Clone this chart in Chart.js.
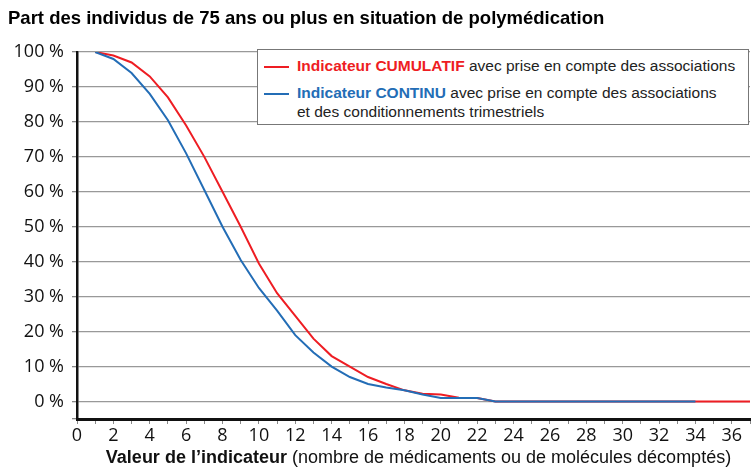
<!DOCTYPE html>
<html>
<head>
<meta charset="utf-8">
<script src="https://cdn.jsdelivr.net/npm/chart.js@4"></script>
<style>
  body { margin: 0; background: #fff; }
  #wrap { position: relative; width: 751px; height: 467px; overflow: hidden; }
  #titre { position: absolute; left: 8px; top: 7px; font: bold 18.5px "Liberation Sans", sans-serif; color: #000; white-space: nowrap; }
  #legende { position: absolute; left: 257px; top: 49px; width: 492px; height: 76px; box-sizing: border-box;
             border: 1.5px solid #777; background: #fff; font: 15.5px "Liberation Sans", sans-serif; color: #222; }
  .ligne { position: absolute; left: 6px; white-space: nowrap; }
  .trait { display: inline-block; width: 25px; height: 0; border-top: 2px solid; vertical-align: middle; margin-right: 8px; }
  #axeX { position: absolute; left: 0; width: 751px; top: 447px; text-align: center; font: 18px "Liberation Sans", sans-serif; color: #111; white-space: nowrap; padding-left: 86px; box-sizing: border-box; }
</style>
</head>
<body>
<div id="wrap">
  <canvas id="graph"></canvas>
  <div id="titre">Part des individus de 75 ans ou plus en situation de polymédication</div>
  <div id="legende">
    <div class="ligne" style="top:7px"><span class="trait" style="border-color:#ee1d23"></span><b style="color:#ee1d23">Indicateur CUMULATIF</b> avec prise en compte des associations</div>
    <div class="ligne" style="top:34px"><span class="trait" style="border-color:#236db6"></span><b style="color:#236db6">Indicateur CONTINU</b> avec prise en compte des associations</div>
    <div class="ligne" style="top:53px; left:39px">et des conditionnements trimestriels</div>
  </div>
  <div id="axeX"><b>Valeur de l’indicateur</b> (nombre de médicaments ou de molécules décomptés)</div>
</div>
<script>
const valeurs = [1, 2, 3, 4, 5, 6, 7, 8, 9, 10, 11, 12, 13, 14, 15, 16, 17, 18, 19, 20, 21, 22, 23, 24, 25, 26, 27, 28, 29, 30, 31, 32, 33, 34, 35, 36, 37];
const cumulatif = [100, 99, 97, 93, 87, 79, 70, 60, 50, 39.5, 31, 24.5, 18, 13, 10, 7, 5, 3.2, 2.2, 2, 1.1, 1, 0, 0, 0, 0, 0, 0, 0, 0, 0, 0, 0, 0, 0, 0, 0];
const continu = [100, 98, 94, 88, 80.5, 71, 60.5, 50, 40.5, 32.5, 26, 19, 14, 10, 7, 5, 4, 3.2, 2, 1, 1, 1, 0, 0, 0, 0, 0, 0, 0, 0, 0, 0, 0, 0];
const ticksY = [-5, 0, 10, 20, 30, 40, 50, 60, 70, 80, 90, 100];

const rouge = '#ee1d23';
const bleu = '#236db6';

function points(vals) {
    return vals.map((v, i) => ({ x: valeurs[i], y: v }));
}

const police = { family: 'Open Sans', size: 18 };

new Chart('graph', {
    type: 'line',
    data: {
        datasets: [{
            label: 'Indicateur CUMULATIF',
            data: points(cumulatif),
            borderColor: rouge,
            borderWidth: 2,
            pointRadius: 0,
            tension: 0,
            order: 1
        }, {
            label: 'Indicateur CONTINU',
            data: points(continu),
            borderColor: bleu,
            borderWidth: 2,
            pointRadius: 0,
            tension: 0,
            order: 0
        }]
    },
    options: {
        responsive: true,
        maintainAspectRatio: false,
        animation: false,
        layout: { padding: { top: 52, right: 0, left: 0, bottom: 0 } },
        plugins: {
            legend: { display: false },
            tooltip: { enabled: false }
        },
        scales: {
            x: {
                type: 'linear',
                min: 0,
                max: 37,
                border: { color: '#111', width: 3 },
                grid: { drawOnChartArea: false, tickLength: 5, tickColor: '#888' },
                ticks: {
                    stepSize: 1,
                    autoSkip: false,
                    maxRotation: 0,
                    padding: 1,
                    color: '#111',
                    font: police,
                    callback: v => (v % 2 === 0 ? v : '')
                },
                afterFit: s => { s.height = 48; }
            },
            y: {
                min: -5,
                max: 100,
                border: { color: '#111', width: 2.5 },
                grid: {
                    color: c => (c.tick && c.tick.value < 0 ? 'rgba(0,0,0,0)' : '#999'),
                    lineWidth: 1.3,
                    tickLength: 5,
                    tickColor: '#888'
                },
                ticks: {
                    padding: 8,
                    color: '#111',
                    font: police,
                    callback: v => (v < 0 ? '' : v + '\u00a0%')
                },
                afterBuildTicks: s => { s.ticks = ticksY.map(v => ({ value: v })); },
                afterFit: s => { s.width = 77; }
            }
        }
    }
});
</script>
</body>
</html>
